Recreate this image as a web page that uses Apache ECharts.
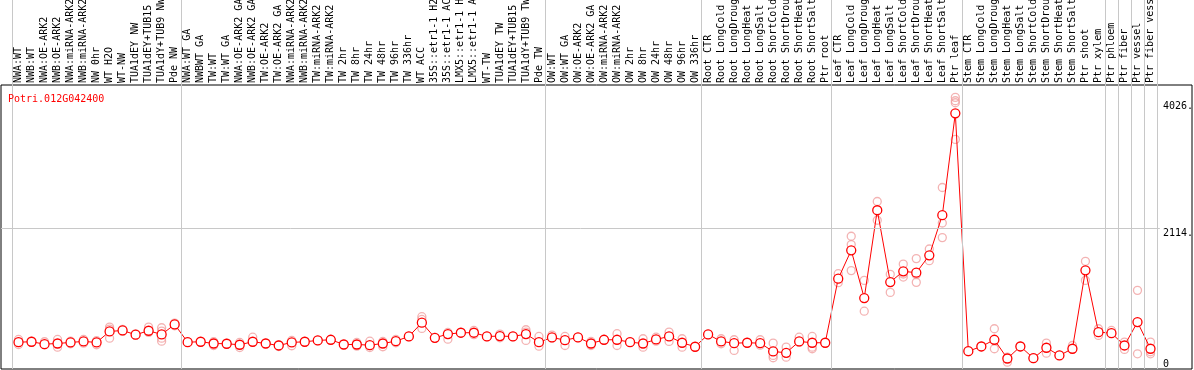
<!DOCTYPE html>
<html>
<head>
<meta charset="utf-8">
<script src="https://cdn.jsdelivr.net/npm/echarts@6/dist/echarts.min.js"></script>
<style>
html,body{margin:0;padding:0;background:#fff;}
#chart{width:1194px;height:370px;}
</style>
</head>
<body>
<div id="chart"></div>
<script>
const geneTitle = 'Potri.012G042400';

const categories = [
'NWA:WT','NWB:WT','NWA:OE-ARK2','NWB:OE-ARK2','NWA:miRNA-ARK2','NWB:miRNA-ARK2','NW 0hr','WT H2O','WT-NW','TUA1dEY NW','TUA1dEY+TUB15 NW','TUA1dY+TUB9 NW','Pde NW',
'NWA:WT GA','NWBWT GA','TW:WT','TW:WT GA','NWA:OE-ARK2 GA','NWB:OE-ARK2 GA','TW:OE-ARK2','TW:OE-ARK2 GA','NWA:miRNA-ARK2','NWB:miRNA-ARK2','TW:miRNA-ARK2','TW:miRNA-ARK2','TW 2hr','TW 8hr','TW 24hr','TW 48hr','TW 96hr','TW 336hr','WT ACC','35S::etr1-1 H2O','35S::etr1-1 ACC','LMX5::etr1-1 H2O','LMX5::etr1-1 ACC','WT-TW','TUA1dEY TW','TUA1dEY+TUB15 TW','TUA1dY+TUB9 TW','Pde TW',
'OW:WT','OW:WT GA','OW:OE-ARK2','OW:OE-ARK2 GA','OW:miRNA-ARK2','OW:miRNA-ARK2','OW 2hr','OW 8hr','OW 24hr','OW 48hr','OW 96hr','OW 336hr',
'Root CTR','Root LongCold','Root LongDrought','Root LongHeat','Root LongSalt','Root ShortCold','Root ShortDrought','Root ShortHeat','Root ShortSalt','Ptr root',
'Leaf CTR','Leaf LongCold','Leaf LongDrought','Leaf LongHeat','Leaf LongSalt','Leaf ShortCold','Leaf ShortDrought','Leaf ShortHeat','Leaf ShortSalt','Ptr leaf',
'Stem CTR','Stem LongCold','Stem LongDrought','Stem LongHeat','Stem LongSalt','Stem ShortCold','Stem ShortDrought','Stem ShortHeat','Stem ShortSalt','Ptr shoot','Ptr xylem',
'Ptr phloem','Ptr fiber','Ptr vessel','Ptr fiber vessel'
];

const meanValues = [
404,410,374,384,400,415,400,565,580,516,576,520,671,
404,410,384,380,365,410,384,354,400,410,430,440,369,369,359,384,419,490,697,470,525,546,546,490,495,490,525,404,
475,434,475,384,440,440,404,384,445,490,395,335,
520,415,389,395,389,264,244,415,395,395,
1360,1787,1068,2390,1309,1470,1450,1711,2315,3848,
268,339,440,158,339,163,320,204,305,1485,555,
540,354,706,305
];

const replicateValues = [
[445,404,369],[420,400],[410,365],[445,384,329],[419,380],[445,389],[425,365],[630,600,464],[596,565],[530,505],[630,550],[621,570,464,419],[690,651],
[410,400],[415,405],[410,354],[390,374],[400,324],[479,404],[390,380],[365,339],[430,350],[415,405],[435,425],[445,435],[375,365],[400,344],[419,324],[415,335],[445,395],[495,485],[787,746,611],[475,465],[550,449],[550,540],[580,516],[495,485],[525,470],[495,485],[591,555,430],[490,344],
[510,464],[490,354],[480,470],[415,354],[445,435],[531,354],[410,400],[455,329],[479,419],[555,415],[455,329],[340,330],
[525,515],[455,380],[440,279],[400,390],[440,359],[389,204,169],[329,178],[479,400],[490,329,305],[400,390],
[1435,1300],[1998,1873,1481],[1334,870],[2521,2239],[1425,1153],[1580,1430,1384],[1662,1420,1304],[1806,1631],[2732,2198,1978],[4089,4038,4008,3456],
[275,260],[345,335],[606,305],[178,103],[345,335],[170,155],[389,238],[210,200],[354,300],[1621,1334],[606,505],
[580,540],[404,294],[1184,229],[404,260,229]
];

// group separators (category boundary indices)
const groupBoundaries = [0,13,41,53,63,73,84,85,86,87,88];
const yTickValues = [2114,4026];
const yTickLabels = {2114:'2114.',4026:'4026.'};
const yZeroValues = [0];
const gridLineValues = [2114];
const yMax = 4275;

const MONO = 'DejaVu Sans Mono';
const repData = [];
replicateValues.forEach((arr, i) => arr.forEach(v => repData.push([i, v])));

const chart = echarts.init(document.getElementById('chart'), null, {renderer:'canvas'});
const option = {
  animation: false,
  title: {
    text: geneTitle, left: 3, top: 89,
    textStyle: {fontFamily: MONO, fontSize: 10, fontWeight: 'normal', color: '#ff0000'}
  },
  grid: [
    {left: 1, right: 2, top: 85, bottom: 1, show: true, borderColor: '#000', borderWidth: 1, backgroundColor: 'transparent', outerBoundsMode: 'none', containLabel: false},
    {left: 12, right: 37, top: 85, bottom: 1, outerBoundsMode: 'none', containLabel: false},
    {left: 12, right: 37, top: 0, bottom: 1, outerBoundsMode: 'none', containLabel: false}
  ],
  xAxis: [
    {type: 'value', gridIndex: 0, min: 0, max: 1, show: false},
    {type: 'category', gridIndex: 1, position: 'top', data: categories, boundaryGap: true,
     axisLine: {show: false}, axisTick: {show: false}, splitLine: {show: false},
     axisLabel: {interval: 0, rotate: 90, margin: 2, hideOverlap: false, fontFamily: MONO, fontSize: 10, color: '#000'}},
    {type: 'value', gridIndex: 2, min: 0, max: categories.length, show: false}
  ],
  yAxis: [
    {type: 'value', gridIndex: 0, min: 0, max: yMax, show: false},
    {type: 'value', gridIndex: 1, min: 0, max: yMax, position: 'right',
     axisLine: {show: false}, axisTick: {show: false}, splitLine: {show: false},
     axisLabel: {customValues: yTickValues, margin: 6, align: 'left', verticalAlign: 'top',
       fontFamily: MONO, fontSize: 10, color: '#000', formatter: v => yTickLabels[v] || String(v)}},
    {type: 'value', gridIndex: 1, min: 0, max: yMax, position: 'right',
     axisLine: {show: false}, axisTick: {show: false}, splitLine: {show: false},
     axisLabel: {customValues: yZeroValues, margin: 6, align: 'left', verticalAlign: 'bottom',
       fontFamily: MONO, fontSize: 10, color: '#000'}},
    {type: 'value', gridIndex: 2, min: 0, max: 1, show: false}
  ],
  series: [
    {type: 'line', xAxisIndex: 2, yAxisIndex: 3, data: [], silent: true,
     markLine: {silent: true, symbol: 'none', label: {show: false},
       lineStyle: {color: '#c8c8c8', width: 1, type: 'solid'},
       data: groupBoundaries.map(b => ({xAxis: b}))}},
    {type: 'line', xAxisIndex: 0, yAxisIndex: 0, data: [], silent: true,
     markLine: {silent: true, symbol: 'none', label: {show: false},
       lineStyle: {color: '#c8c8c8', width: 1, type: 'solid'},
       data: gridLineValues.map(v => [{coord: [0, v]}, {coord: [0.973, v]}])}},
    {type: 'scatter', xAxisIndex: 1, yAxisIndex: 1, data: repData, symbol: 'circle', symbolSize: 8, silent: true,
     itemStyle: {color: 'rgba(0,0,0,0)', borderColor: '#f0a0a0', borderWidth: 1.3}},
    {type: 'line', xAxisIndex: 1, yAxisIndex: 1, data: meanValues, symbol: 'circle', symbolSize: 9,
     lineStyle: {color: '#ff0000', width: 1},
     itemStyle: {color: '#ffffff', borderColor: '#ff0000', borderWidth: 1.3}},
    {type: 'scatter', xAxisIndex: 1, yAxisIndex: 1, data: meanValues, symbol: 'circle', symbolSize: 5, silent: true,
     itemStyle: {color: 'rgba(0,0,0,0)', borderColor: '#000', borderWidth: 1.1}}
  ]
};
chart.setOption(option);
</script>
</body>
</html>
